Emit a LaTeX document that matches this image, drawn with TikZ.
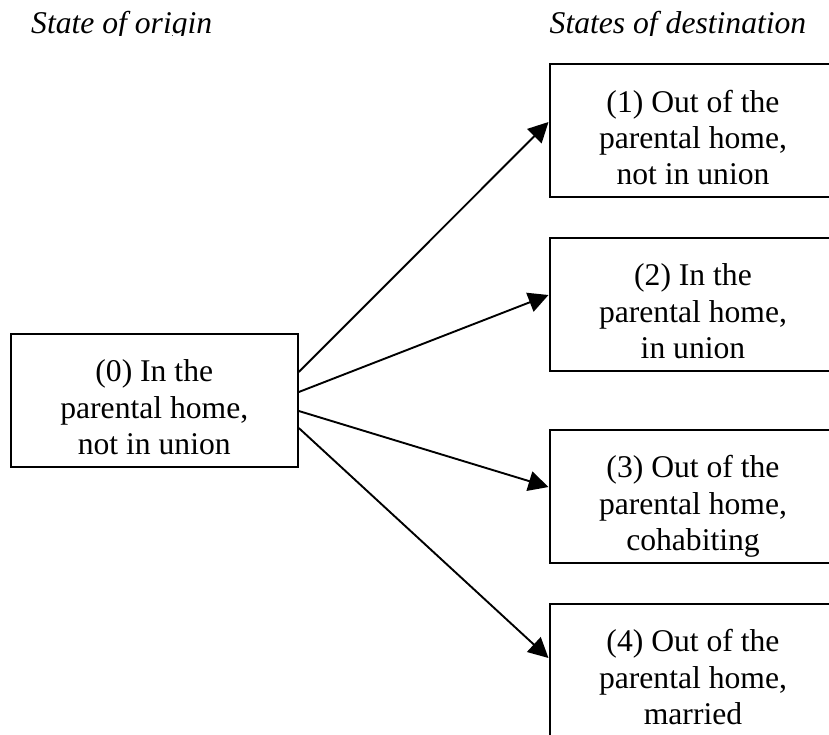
\documentclass[tikz,border=0pt]{standalone}
\usepackage{fontspec}
\setmainfont{Liberation Serif}
\usetikzlibrary{arrows.meta}
\newcommand{\lnstrut}{\rule[-10pt]{0pt}{56pt}}
\newcommand{\threelines}[3]{\parbox{280pt}{\centering\lineskiplimit=-100pt\baselineskip=36.3pt
\lnstrut #1\\\lnstrut #2\\\lnstrut #3}}
\tikzset{
  statebox/.style={draw, line width=2pt, minimum width=287pt, minimum height=133pt,
    inner sep=0pt, font=\fontsize{31.63pt}{36.3pt}\selectfont},
  headtext/.style={inner sep=0pt, anchor=base west, font=\fontsize{31.63pt}{36.3pt}\selectfont\itshape},
  arr/.style={line width=1.9pt, -{Triangle[length=20pt,width=20pt]}}
}
\begin{document}
\begin{tikzpicture}[x=1pt,y=-1pt]
\useasboundingbox (0,0) rectangle (829,734);
\clip (0,0) rectangle (829,734);
\begin{scope}
  \clip (0,0) rectangle (829,35.5);
  \node[headtext] (h0) at (31,33.3) {State of origin};
  \node[headtext] (h1) at (549.5,33.3) {States of destination};
\end{scope}
\node[statebox] (b0) at (154.3,400) {\threelines{(0) In the}{parental home,}{not in union}};
\node[statebox] (b1) at (693,130.5) {\threelines{(1) Out of the}{parental home,}{not in union}};
\node[statebox] (b2) at (693,304) {\threelines{(2) In the}{parental home,}{in union}};
\node[statebox] (b3) at (693,496) {\threelines{(3) Out of the}{parental home,}{cohabiting}};
\node[statebox] (b4) at (693,670) {\threelines{(4) Out of the}{parental home,}{married}};
\draw[arr] ([yshift=28pt]b0.east) -- ([yshift=8.5pt]b1.west);
\draw[arr] ([yshift=8pt]b0.east) -- ([yshift=9pt]b2.west);
\draw[arr] ([yshift=-11pt]b0.east) -- ([yshift=9pt]b3.west);
\draw[arr] ([yshift=-28pt]b0.east) -- ([yshift=12pt]b4.west);
\end{tikzpicture}
\end{document}
